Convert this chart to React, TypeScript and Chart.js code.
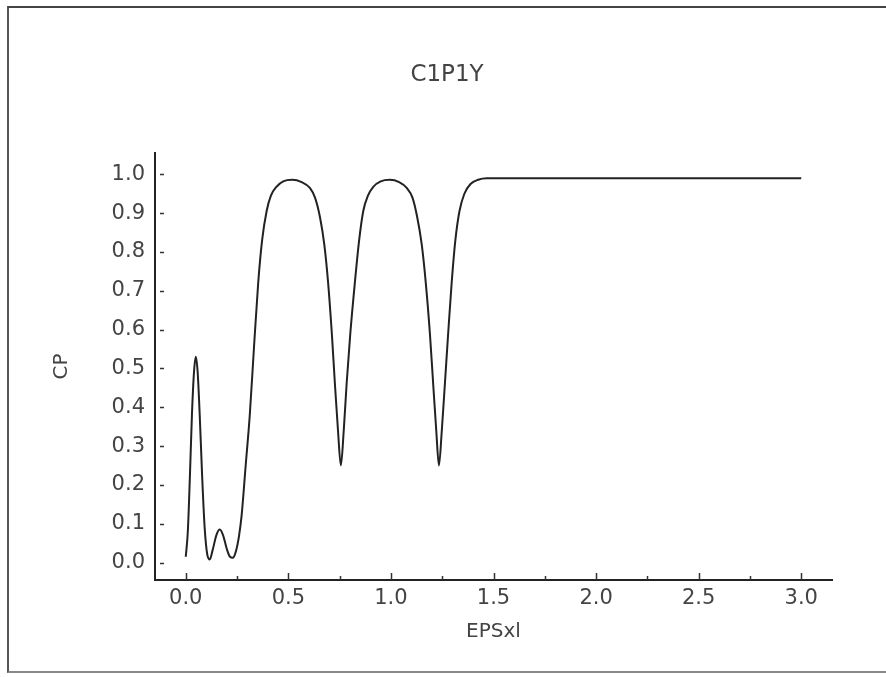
import React, { useEffect, useRef } from "react";
import { Chart, registerables } from "chart.js";

Chart.register(...registerables);

const TITLE = "C1P1Y";
const X_LABEL = "EPSxl";
const Y_LABEL = "CP";

const X_TICKS = [0, 0.5, 1.0, 1.5, 2.0, 2.5, 3.0];
const X_MINOR_TICKS = [0.25, 0.75, 1.25, 1.75, 2.25, 2.75];
const Y_TICKS = [0, 0.1, 0.2, 0.3, 0.4, 0.5, 0.6, 0.7, 0.8, 0.9, 1.0];

const EPS = [
  0.0, 0.01, 0.02, 0.03, 0.04, 0.049, 0.058, 0.068, 0.08, 0.092, 0.105, 0.117,
  0.13, 0.15, 0.166, 0.182, 0.2, 0.215, 0.229, 0.245, 0.26, 0.272, 0.292, 0.312,
  0.332, 0.353, 0.372, 0.394, 0.415, 0.442, 0.475, 0.519, 0.565, 0.605, 0.63,
  0.654, 0.675, 0.694, 0.712, 0.727, 0.742, 0.756, 0.77, 0.784, 0.802, 0.824,
  0.845, 0.865, 0.888, 0.914, 0.95, 0.995, 1.04, 1.077, 1.105, 1.128, 1.15,
  1.17, 1.19, 1.206, 1.221, 1.234, 1.248, 1.263, 1.279, 1.296, 1.314, 1.334,
  1.358, 1.388, 1.425, 1.467, 1.55, 2.0, 2.5, 3.0,
];

const CP = [
  0.015, 0.08, 0.22, 0.38, 0.49, 0.53, 0.49, 0.38, 0.22, 0.09, 0.02, 0.008,
  0.03, 0.072, 0.085, 0.07, 0.035, 0.015, 0.012, 0.03, 0.07, 0.12, 0.25, 0.38,
  0.55, 0.72, 0.83, 0.905, 0.945, 0.968, 0.982, 0.986, 0.98, 0.965, 0.94,
  0.89, 0.82, 0.72, 0.59, 0.46, 0.34, 0.25, 0.34, 0.46, 0.59, 0.72,
  0.83, 0.905, 0.945, 0.968, 0.982, 0.986, 0.98, 0.965, 0.94, 0.89, 0.82,
  0.72, 0.59, 0.46, 0.34, 0.25, 0.34, 0.46, 0.59, 0.72, 0.83, 0.905,
  0.95, 0.975, 0.986, 0.99, 0.99, 0.99, 0.99, 0.99,
];

const FONT = "'DejaVu Sans', 'Liberation Sans', sans-serif";
const TEXT_COLOR = "#444";
const LINE_COLOR = "#222";

const tickMarks = {
  id: "tickMarks",
  afterDraw(chart: any) {
    const { ctx, chartArea } = chart;
    const xs = chart.scales.x;
    const ys = chart.scales.y;
    ctx.save();
    ctx.strokeStyle = "#333";
    ctx.lineWidth = 1.5;
    ctx.beginPath();
    X_TICKS.forEach((v) => {
      const px = Math.round(xs.getPixelForValue(v)) + 0.5;
      ctx.moveTo(px, chartArea.bottom);
      ctx.lineTo(px, chartArea.bottom - 7);
    });
    X_MINOR_TICKS.forEach((v) => {
      const px = Math.round(xs.getPixelForValue(v)) + 0.5;
      ctx.moveTo(px, chartArea.bottom);
      ctx.lineTo(px, chartArea.bottom - 4);
    });
    Y_TICKS.forEach((v) => {
      const py = Math.round(ys.getPixelForValue(v)) + 0.5;
      ctx.moveTo(chartArea.left + 5, py);
      ctx.lineTo(chartArea.left + 9, py);
    });
    ctx.stroke();
    ctx.restore();
  },
};

export default function App() {
  const ref = useRef<HTMLCanvasElement>(null);

  useEffect(() => {
    if (!ref.current) return;
    const chart = new Chart(ref.current, {
      type: "line",
      data: {
        datasets: [
          {
            data: EPS.map((x, i) => ({ x, y: CP[i] })),
            borderColor: LINE_COLOR,
            borderWidth: 2,
            pointRadius: 0,
            fill: false,
            cubicInterpolationMode: "monotone",
            yAxisID: "y",
          },
        ],
      },
      options: {
        responsive: false,
        animation: false,
        devicePixelRatio: 1,
        layout: { padding: { top: 0, right: 0, bottom: 0, left: 8 } },
        plugins: {
          legend: { display: false },
          tooltip: { enabled: false },
          title: {
            display: true,
            text: TITLE,
            color: TEXT_COLOR,
            font: { family: FONT, size: 23, weight: "normal", lineHeight: 1.2 },
            padding: { top: 61, bottom: 64.4 },
          },
        },
        scales: {
          x: {
            type: "linear",
            min: -0.15,
            max: 3.15,
            afterBuildTicks: (s: any) => {
              s.ticks = X_TICKS.map((value) => ({ value }));
            },
            afterFit: (s: any) => {
              s.height = 97;
            },
            ticks: {
              callback: (v: any) => Number(v).toFixed(1),
              color: TEXT_COLOR,
              font: { family: FONT, size: 21 },
              padding: 6,
              maxRotation: 0,
              autoSkip: false,
            },
            grid: { display: false, drawTicks: false },
            border: { display: true, color: LINE_COLOR, width: 2 },
            title: {
              display: true,
              text: X_LABEL,
              color: TEXT_COLOR,
              font: { family: FONT, size: 20, lineHeight: 1.2 },
              padding: { top: 0, bottom: 33 },
            },
          },
          y: {
            type: "linear",
            position: "left",
            min: -0.045,
            max: 1.055,
            afterBuildTicks: (s: any) => {
              s.ticks = Y_TICKS.map((value) => ({ value }));
            },
            afterFit: (s: any) => {
              s.width = 147;
            },
            ticks: {
              callback: (v: any) => Number(v).toFixed(1),
              color: TEXT_COLOR,
              font: { family: FONT, size: 21 },
              padding: 10,
              autoSkip: false,
            },
            grid: { display: false, drawTicks: false },
            border: { display: true, color: LINE_COLOR, width: 2 },
            title: {
              display: true,
              text: Y_LABEL,
              color: TEXT_COLOR,
              font: { family: FONT, size: 20, lineHeight: 1.2 },
              padding: { top: 42, bottom: 0 },
            },
          },
          yRight: {
            type: "linear",
            position: "right",
            min: -0.045,
            max: 1.055,
            ticks: { display: false },
            grid: { display: false, drawTicks: false },
            border: { display: false },
            title: { display: false },
            afterFit: (s: any) => {
              s.width = 54;
            },
          },
        },
      },
      plugins: [tickMarks],
    } as any);
    return () => chart.destroy();
  }, []);

  return (
    <div
      style={{
        position: "absolute",
        left: 0,
        top: 0,
        width: 886,
        height: 677,
        background: "#fff",
      }}
    >
      <div
        style={{
          position: "absolute",
          left: 7,
          top: 6,
          width: 879,
          height: 667,
          boxSizing: "border-box",
          borderTop: "2px solid #444",
          borderLeft: "2px solid #555",
          borderBottom: "2px solid #888",
        }}
      />
      <canvas
        ref={ref}
        width={886}
        height={677}
        style={{ position: "absolute", left: 0, top: 0, width: 886, height: 677 }}
      />
    </div>
  );
}
